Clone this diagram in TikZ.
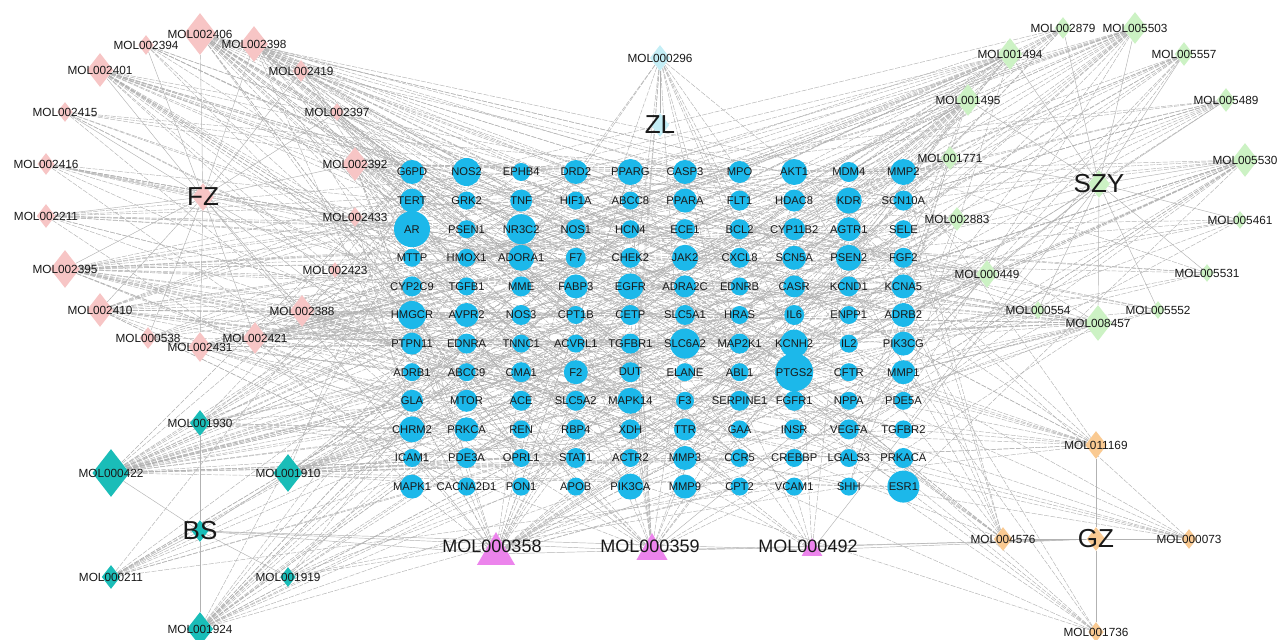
\documentclass[tikz,border=0pt]{standalone}
\usepackage{fontspec}
\setmainfont{Liberation Sans}
\usetikzlibrary{shapes.geometric, positioning}
\definecolor{tcol}{RGB}{28,184,234}
\definecolor{fzcol}{RGB}{247,197,197}
\definecolor{bscol}{RGB}{26,189,184}
\definecolor{zlcol}{RGB}{196,238,246}
\definecolor{szycol}{RGB}{204,242,196}
\definecolor{gzcol}{RGB}{250,202,146}
\definecolor{ccol}{RGB}{236,132,236}
\newcommand{\genefont}{\fontsize{5.6}{6.5}\selectfont}
\newcommand{\molfont}{\fontsize{5.9}{6.5}\selectfont}
\newcommand{\trifont}{\fontsize{9}{10}\selectfont}
\newcommand{\herbfont}{\fontsize{13}{14}\selectfont}
\pgfdeclarelayer{background}
\pgfsetlayers{background,main}
\tikzset{
x=0.5pt, y=-0.5pt, % one unit is one pixel of the picture, y runs down
every label/.style={inner sep=0pt, text=black!90}, % names sit on top of their shapes
target/.style={circle, fill=tcol, inner sep=0pt, minimum size=#1pt}, % #1 = radius in px
mol/.style={diamond, inner sep=0pt, minimum height=#1pt, minimum width={0.78*#1pt}}, % #1 = half height in px
common/.style={regular polygon, regular polygon sides=3, fill=ccol, inner sep=0pt, minimum size=#1pt},
netline/.style={draw=black!30, line width=0.22pt}, % herb to ingredient
hitline/.style={netline, dash pattern=on 2.5pt off 0.7pt}, % ingredient to target
}
\begin{document}
\begin{tikzpicture}
\useasboundingbox (0,0) rectangle (1281,640);
\begin{pgfonlayer}{background}
\fill[white] (0,0) rectangle (1281,640);
\end{pgfonlayer}
\pgfmathsetseed{1234}

% targets, 12 rows of 10
\foreach \nm/\rr [count=\i from 0] in {
G6PD/12, NOS2/14, EPHB4/9, DRD2/12, PPARG/13, CASP3/12, MPO/11, AKT1/13, MDM4/10, MMP2/13,
TERT/12, GRK2/9, TNF/11, HIF1A/9, ABCC8/9, PPARA/12, FLT1/10, HDAC8/11, KDR/13, SCN10A/10,
AR/18, PSEN1/9, NR3C2/15, NOS1/10, HCN4/9, ECE1/10, BCL2/10, CYP11B2/11, AGTR1/12, SELE/9,
MTTP/9, HMOX1/9, ADORA1/13, F7/10, CHEK2/10, JAK2/13, CXCL8/10, SCN5A/12, PSEN2/13, FGF2/10,
CYP2C9/10, TGFB1/9, MME/10, FABP3/12, EGFR/13, ADRA2C/11, EDNRB/9, CASR/11, KCND1/10, KCNA5/12,
HMGCR/14, AVPR2/12, NOS3/10, CPT1B/9, CETP/10, SLC5A1/10, HRAS/9, IL6/10, ENPP1/9, ADRB2/12,
PTPN11/11, EDNRA/10, TNNC1/9, ACVRL1/9, TGFBR1/10, SLC6A2/15, MAP2K1/10, KCNH2/14, IL2/9, PIK3CG/12,
ADRB1/9, ABCC9/9, CMA1/10, F2/12, DUT/10, ELANE/9, ABL1/9, PTGS2/19, CFTR/9, MMP1/12,
GLA/11, MTOR/11, ACE/10, SLC5A2/10, MAPK14/13, F3/9, SERPINE1/10, FGFR1/10, NPPA/9, PDE5A/9,
CHRM2/13, PRKCA/12, REN/9, RBP4/10, XDH/10, TTR/11, GAA/9, INSR/10, VEGFA/10, TGFBR2/9,
ICAM1/9, PDE3A/10, OPRL1/9, STAT1/10, ACTR2/9, MMP3/12, CCR5/9, CREBBP/9, LGALS3/9, PRKACA/10,
MAPK1/12, CACNA2D1/9, PON1/9, APOB/9, PIK3CA/13, MMP9/12, CPT2/9, VCAM1/9, SHH/9, ESR1/16}{
  \pgfmathsetmacro{\gx}{412+54.6*mod(\i,10)}
  \pgfmathsetmacro{\gy}{172+28.6*int(\i/10)}
  \node[target=\rr, label={[font=\genefont]center:\nm}] (g\i) at (\gx,\gy) {};
}

% herbs
\node[mol=14, fill=fzcol, label={[font=\herbfont]center:FZ}] (FZ) at (203,197) {};
\node[mol=11, fill=bscol, label={[font=\herbfont]center:BS}] (BS) at (200,531) {};
\node[mol=12, fill=zlcol, label={[font=\herbfont]center:ZL}] (ZL) at (660,125) {};
\node[mol=14, fill=szycol, label={[font=\herbfont]center:SZY}] (SZY) at (1099,184) {};
\node[mol=12, fill=gzcol, label={[font=\herbfont]center:GZ}] (GZ) at (1096,539) {};

% ingredients: herb/colour/id/x/y/half height
\foreach \hb/\col/\id/\px/\py/\hh in {
FZ/fzcol/002394/146/45/10, FZ/fzcol/002406/200/34/21, FZ/fzcol/002398/254/44/18,
FZ/fzcol/002401/100/70/17, FZ/fzcol/002419/301/71/11, FZ/fzcol/002415/65/112/10,
FZ/fzcol/002397/337/112/9, FZ/fzcol/002416/46/164/11, FZ/fzcol/002392/355/164/17,
FZ/fzcol/002211/46/216/12, FZ/fzcol/002433/355/217/10, FZ/fzcol/002395/65/269/19,
FZ/fzcol/002423/335/270/8, FZ/fzcol/002410/100/310/17, FZ/fzcol/002388/302/311/16,
FZ/fzcol/000538/148/338/11, FZ/fzcol/002431/200/347/15, FZ/fzcol/002421/255/338/16,
BS/bscol/001930/200/423/13, BS/bscol/000422/111/473/24, BS/bscol/001910/288/473/19,
BS/bscol/000211/111/577/12, BS/bscol/001919/288/577/10, BS/bscol/001924/200/629/17,
ZL/zlcol/000296/660/58/13,
SZY/szycol/002879/1063/28/11, SZY/szycol/005503/1135/28/16, SZY/szycol/001494/1010/54/16,
SZY/szycol/005557/1184/54/12, SZY/szycol/001495/968/100/16, SZY/szycol/005489/1226/100/12,
SZY/szycol/001771/950/158/12, SZY/szycol/005530/1245/160/17, SZY/szycol/002883/957/219/12,
SZY/szycol/005461/1240/220/9, SZY/szycol/000449/987/274/14, SZY/szycol/005531/1207/273/9,
SZY/szycol/000554/1038/310/9, SZY/szycol/005552/1158/310/9, SZY/szycol/008457/1098/323/18,
GZ/gzcol/011169/1096/445/14, GZ/gzcol/004576/1003/539/12, GZ/gzcol/000073/1189/539/10,
GZ/gzcol/001736/1096/632/10}{
  \node[mol=\hh, fill=\col, label={[font=\molfont]center:MOL\id}] (m\id) at (\px,\py) {};
  \begin{pgfonlayer}{background}
    \draw[netline] (\hb) -- (m\id);
    \pgfmathtruncatemacro{\dg}{max(2*\hh-12,3)}
    \foreach \k in {1,...,\dg}{
      \pgfmathrandominteger{\gi}{0}{119}
      \draw[hitline] (m\id) -- (g\gi);
    }
  \end{pgfonlayer}
}

% shared ingredients
\node[common=22, label={[font=\trifont, xshift=-2pt, yshift=4pt]center:MOL000358}] (m000358) at (496,554) {};
\node[common=18, label={[font=\trifont, xshift=-1pt, yshift=2.5pt]center:MOL000359}] (m000359) at (652,551) {};
\node[common=12, label={[font=\trifont, xshift=-2pt, yshift=2pt]center:MOL000492}] (m000492) at (812,550) {};
\begin{pgfonlayer}{background}
\foreach \id/\dg/\hbs in {000358/30/{FZ,BS,SZY,GZ}, 000359/22/{FZ,BS,SZY,GZ}, 000492/8/{BS,SZY,GZ}}{
  \foreach \hb in \hbs
    \draw[netline] (\hb) -- (m\id);
  \foreach \k in {1,...,\dg}{
    \pgfmathrandominteger{\gi}{0}{119}
    \draw[hitline] (m\id) -- (g\gi);
  }
}
\end{pgfonlayer}
\end{tikzpicture}
\end{document}
